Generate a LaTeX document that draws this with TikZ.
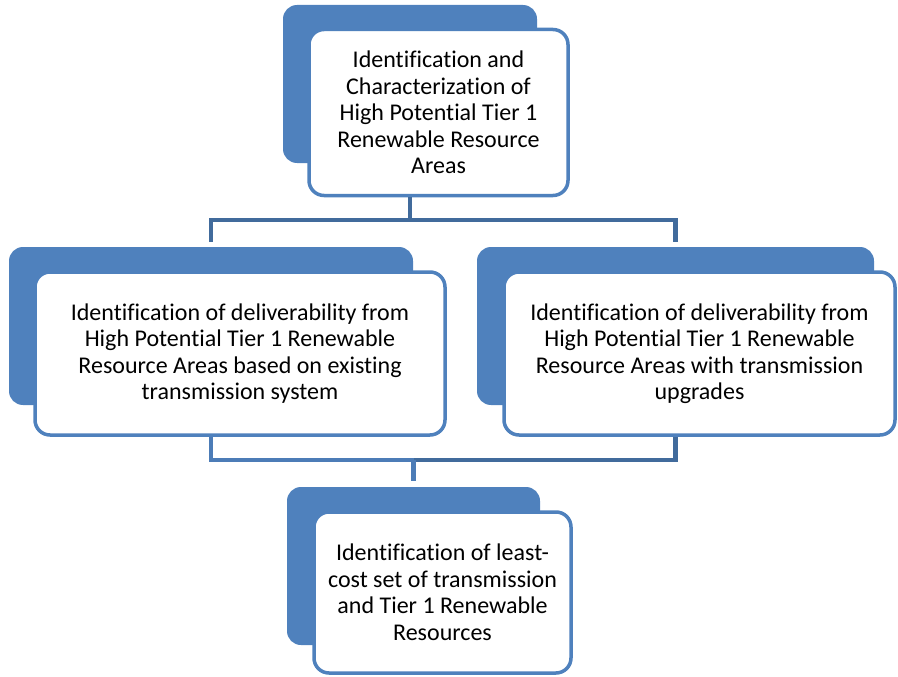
\documentclass[tikz,border=0pt]{standalone}
\usepackage{fontspec}
\setmainfont{Carlito}[Ligatures=NoCommon]
\usetikzlibrary{calc}

\definecolor{boxblue}{HTML}{4F81BD}
\definecolor{linklight}{HTML}{4C7CB7}
\definecolor{linkdark}{HTML}{416B9C}

\tikzset{
  backbox/.style={fill=boxblue, rounded corners=14pt, inner sep=0pt, minimum height=158pt},
  frontbox/.style={draw=boxblue, line width=3.5pt, fill=white, rounded corners=15pt,
    inner sep=0pt, align=center, text=black,
    font=\fontsize{24}{26.5}\selectfont},
  link/.style={draw=linklight, line width=4.8pt},
  linkdk/.style={draw=linkdark, line width=4.8pt},
}

\begin{document}
\begin{tikzpicture}[x=1pt, y=-1pt]
  \useasboundingbox (0,0) rectangle (898,677);

  % shadow plates behind each step
  \node[backbox, minimum width=254pt] (topback)    at (410,84)    {};
  \node[backbox, minimum width=404pt] (leftback)   at (211,326)   {};
  \node[backbox, minimum width=397pt] (rightback)  at (675.5,326) {};
  \node[backbox, minimum width=253pt] (bottomback) at (413.5,566) {};

  % the steps themselves
  \node[frontbox, minimum width=259pt, minimum height=166pt] (topfront) at (438.5,112.5)
    {Identification and\\Characterization of\\High Potential Tier 1\\Renewable Resource\\Areas};
  \node[frontbox, minimum width=410pt, minimum height=163pt] (leftfront) at (240,353.5)
    {Identification of deliverability from\\High Potential Tier 1 Renewable\\Resource Areas based on existing\\transmission system};
  \node[frontbox, minimum width=391pt, minimum height=163pt] (rightfront) at (699.5,353.5)
    {Identification of deliverability from\\High Potential Tier 1 Renewable\\Resource Areas with transmission\\upgrades};
  \node[frontbox, minimum width=257pt, minimum height=161pt] (bottomfront) at (442.5,592.5)
    {Identification of least-\\cost set of transmission\\and Tier 1 Renewable\\Resources};

  % junction points of the connector trees
  \coordinate (hubtop) at (410,220);
  \coordinate (hubbottom) at (413.5,460);

  % upper tree
  \draw[linkdk] (topback.south |- topfront.south) -- (hubtop);
  \draw[linkdk, shorten >=5pt] (hubtop) -| (rightback.north);
  \draw[linkdk, shorten >=5pt] (hubtop) -| (leftback.north);

  % lower tree
  \draw[linkdk] (rightback.south |- rightfront.south) |- (hubbottom);
  \draw[link] (leftback.south |- leftfront.south) |- (hubbottom);
  \draw[link, shorten >=6pt] (hubbottom) -- (bottomback.north);
\end{tikzpicture}
\end{document}
